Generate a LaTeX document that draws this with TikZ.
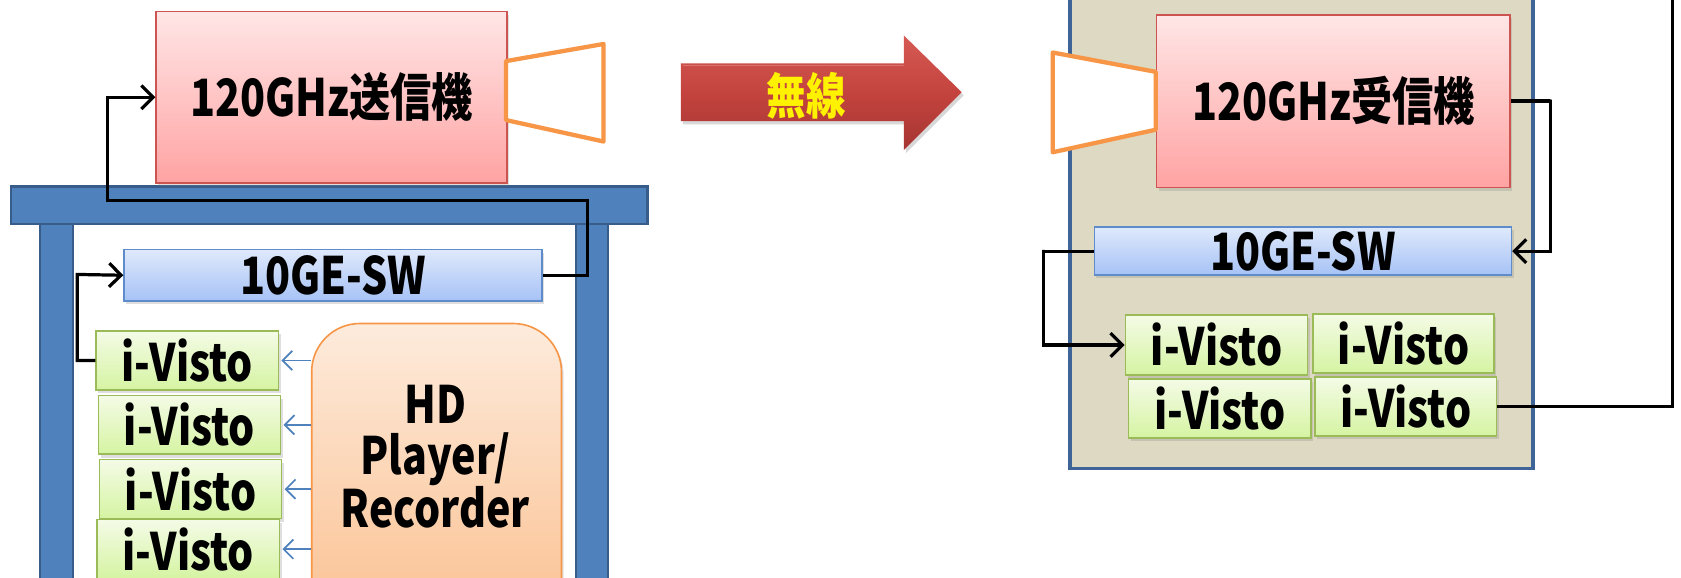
\documentclass[tikz,border=0pt]{standalone}
\usepackage{fontspec}
\newfontfamily\jp[FakeStretch=0.8]{Noto Sans CJK JP}
\usetikzlibrary{arrows.meta,shadows}
\definecolor{pinkTop}{HTML}{FFE6E6}
\definecolor{pinkBot}{HTML}{FFA3A3}
\definecolor{pinkBorder}{HTML}{CC5552}
\definecolor{blueTop}{HTML}{DFE9FB}
\definecolor{blueBot}{HTML}{A6C2F6}
\definecolor{blueBorder}{HTML}{5E8CCB}
\definecolor{greenTop}{HTML}{F4FBE6}
\definecolor{greenBot}{HTML}{D5F4A2}
\definecolor{greenBorder}{HTML}{9BBB59}
\definecolor{orTop}{HTML}{FDEBDC}
\definecolor{orBot}{HTML}{FBBE8C}
\definecolor{orBorder}{HTML}{F79646}
\definecolor{tanFill}{HTML}{DDD9C3}
\definecolor{tanBorder}{HTML}{3F6497}
\definecolor{tableFill}{HTML}{4F81BD}
\definecolor{tableBorder}{HTML}{385D8A}
\definecolor{arrTop}{HTML}{D65A54}
\definecolor{arrMid}{HTML}{C4433E}
\definecolor{arrBot}{HTML}{A53532}
\definecolor{lineBlue}{HTML}{4F81BD}
\tikzset{
  x=1pt, y=-1pt,
  txt/.style={font=\jp\bfseries\fontsize{48pt}{48pt}\selectfont, text=black},
  shad/.style={drop shadow={opacity=0.25, shadow xshift=2pt, shadow yshift=-3pt}},
  unitbox/.style={txt, shad, anchor=north west, inner sep=0pt, line width=1.5pt},
  pinkbox/.style={unitbox, draw=pinkBorder, top color=pinkTop, bottom color=pinkBot},
  swbox/.style={unitbox, draw=blueBorder, top color=blueTop, bottom color=blueBot},
  visto/.style={unitbox, draw=greenBorder, top color=greenTop, bottom color=greenBot},
  hdbox/.style={shad, anchor=north west, inner sep=0pt, line width=1.5pt, draw=orBorder,
    top color=orTop, bottom color=orBot, rounded corners=45pt},
  horn/.style={draw=orBorder, fill=white, line width=4pt, line join=round},
  tablepart/.style={draw=tableBorder, fill=tableFill, line width=2pt},
  wire/.style={draw=black, line width=3pt, line join=miter},
  wirearr/.style={wire, -{Straight Barb[length=11pt,width=22pt,line width=3pt]}},
  bluearr/.style={draw=lineBlue, line width=1.6pt, -{Straight Barb[length=9pt,width=18pt,line width=1.6pt]}},
}
\begin{document}
\begin{tikzpicture}
\clip (0,0) rectangle (1568,539);
\fill[white] (0,0) rectangle (1568,539);

% ---------- left: table ----------
\draw[tablepart] (37,205) rectangle (68,560);
\draw[tablepart] (537,205) rectangle (567,560);
\draw[tablepart] (10,174) rectangle (604,209);

% transmitter
\node[pinkbox, minimum width=327pt, minimum height=160pt] (tx) at (145,10) {120GHz送信機};
\draw[horn] (472,57) -- (563,41) -- (563,132) -- (472,112) -- cycle;

% switch
\node[swbox, minimum width=390pt, minimum height=48pt] (sw1) at (115,232) {10GE-SW};

% i-Visto left
\node[visto, minimum width=170pt, minimum height=55pt] (iv1) at (89,308) {i-Visto};
\node[visto, minimum width=170pt, minimum height=55pt] (iv2) at (91,368) {i-Visto};
\node[visto, minimum width=170pt, minimum height=55pt] (iv3) at (92,428) {i-Visto};
\node[visto, minimum width=170pt, minimum height=55pt] (iv4) at (90,484) {i-Visto};

% HD player / recorder
\node[hdbox, minimum width=233pt, minimum height=300pt] (hd) at (290,301) {};
\node[txt, align=center, anchor=center] (hdtxt) at (406,426) {HD\\Player/\\Recorder};

% blue arrows
\foreach \v in {iv1,iv2,iv3,iv4}
  \draw[bluearr] (\v.east -| hd.west) -- ([xshift=2pt]\v.east);

% wires left
\coordinate (a1) at (548,187);
\coordinate (a2) at (100,187);
\draw[wirearr] (sw1.east) -| (a1) -- (a2) |- (tx.west);
\coordinate (b1) at (72,256);
\draw[wirearr] (iv1.west) -| (b1) -- (sw1.west);

% ---------- middle arrow ----------
\shade[top color=arrTop, bottom color=arrBot, middle color=arrMid,
  drop shadow={opacity=0.3, shadow xshift=2pt, shadow yshift=-3pt}]
  (635,59) -- (843,59) -- (843,33) -- (897,86) -- (843,140) -- (843,113) -- (635,113) -- cycle;
\draw[arrTop!70!white, line width=0.8pt, opacity=0.6] (637,61) -- (843,61);
\node[font=\jp\bfseries\fontsize{46pt}{46pt}\selectfont, text=yellow] (musen) at (752,89) {無線};

% ---------- right ----------
\draw[fill=tanFill, draw=tanBorder, line width=3pt] (998,-10) rectangle (1430,437);

\node[pinkbox, minimum width=330pt, minimum height=161pt] (rx) at (1078,13) {120GHz受信機};
\draw[horn] (1078,67) -- (982,49) -- (982,142) -- (1078,121) -- cycle;

\node[swbox, minimum width=389pt, minimum height=45pt] (sw2) at (1020,211) {10GE-SW};

\node[visto, minimum width=170pt, minimum height=56pt] (r1) at (1049,293) {i-Visto};
\node[visto, minimum width=169pt, minimum height=55pt] (r2) at (1224,292) {i-Visto};
\node[visto, minimum width=170pt, minimum height=55pt] (r3) at (1052,353) {i-Visto};
\node[visto, minimum width=169pt, minimum height=55pt] (r4) at (1226,351) {i-Visto};

\coordinate (c1) at (1446,93);
\draw[wirearr] (rx.east) -| (c1) |- (sw2.east);
\coordinate (d1) at (973,233);
\draw[wirearr] (sw2.west) -| (d1) |- (r1.west);
\coordinate (e1) at (1560,-10);
\draw[wire] (r4.east) -| (e1);
\end{tikzpicture}
\end{document}
